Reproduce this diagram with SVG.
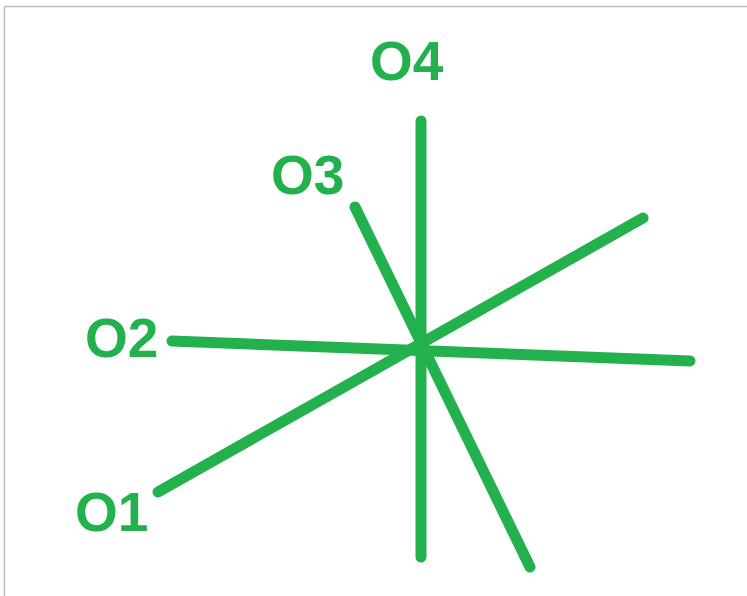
<svg xmlns="http://www.w3.org/2000/svg" width="747" height="596" viewBox="0 0 747 596">
<style>
.ln{stroke:#22b14c;stroke-width:11;stroke-linecap:round;fill:none}
.lb{font-family:"Liberation Sans",Arial,sans-serif;font-weight:bold;font-size:55px;fill:#22b14c}
</style>
<rect x="0" y="0" width="747" height="596" fill="#ffffff"/>
<path d="M4.5 6.5H747M4.5 6.5V596" stroke="#bdbdbd" stroke-width="1.5" fill="none"/>
<g id="connectors">
<line class="ln" x1="421" y1="121" x2="421" y2="557"/>
<line class="ln" x1="355" y1="207" x2="530" y2="567"/>
<line class="ln" x1="158" y1="492" x2="643" y2="218"/>
<line class="ln" x1="172" y1="341" x2="690" y2="361"/>
</g>
<g id="O4"><text class="lb" x="370" y="80">O4</text></g>
<g id="O3"><text class="lb" x="271" y="194">O3</text></g>
<g id="O2"><text class="lb" x="85" y="357">O2</text></g>
<g id="O1"><text class="lb" x="75" y="531">O1</text></g>
</svg>
